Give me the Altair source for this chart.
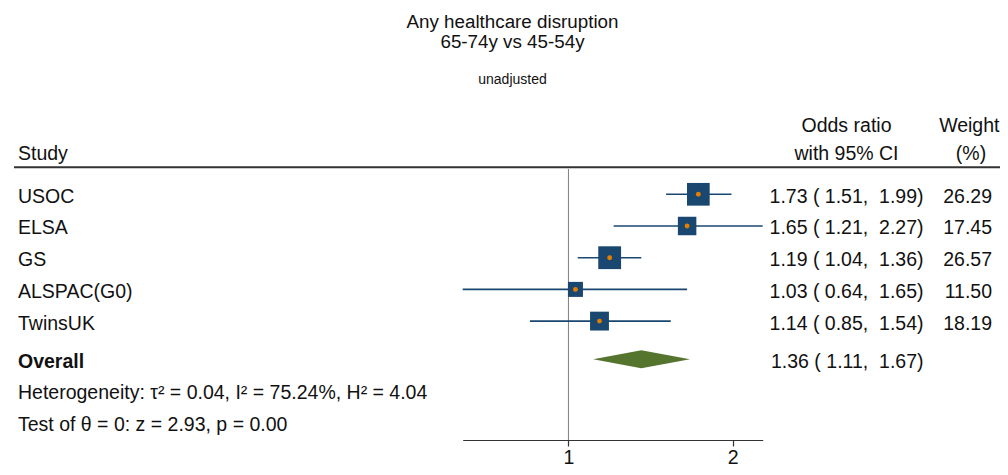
import altair as alt
import pandas as pd

# ---------------- data ----------------
studies = ["USOC", "ELSA", "GS", "ALSPAC(G0)", "TwinsUK"]
odds_ratio = [1.73, 1.65, 1.19, 1.03, 1.14]
ci_lower = [1.51, 1.21, 1.04, 0.64, 0.85]
ci_upper = [1.99, 2.27, 1.36, 1.65, 1.54]
weight_pct = [26.29, 17.45, 26.57, 11.50, 18.19]

overall_or = 1.36
overall_lower = 1.11
overall_upper = 1.67

tau2 = 0.04
i2 = 75.24
h2 = 4.04
z_stat = 2.93
p_value = 0.00

x_ticks = [1, 2]

title_lines = ["Any healthcare disruption", "65-74y vs 45-54y"]
subtitle = "unadjusted"

# ---------------- style / layout ----------------
W, H, PAD_B = 992, 432, 27
FONT = "Liberation Sans"
FS = 19.5
TEXT = "#111111"
NAVY = "#1a476f"
ORANGE = "#e37e00"
GREEN = "#55752f"
ROW0, STEP = 186.3, 31.7
DY = 8.4
DIAMOND_HALF = 9 / STEP


def nb(s):
    return s.replace(" ", "\u00a0")


def ci_text(e, lo, hi):
    return nb(f"{e:.2f} ({lo:5.2f}, {hi:5.2f})")


n = len(studies)
rows = list(range(1, n + 1))
overall_row = n + 1.2
het_row = overall_row + 1
test_row = overall_row + 2

df = pd.DataFrame({
    "study": studies, "row": rows, "or": odds_ratio, "lo": ci_lower,
    "hi": ci_upper, "w": weight_pct,
    "ci": [ci_text(e, l, h) for e, l, h in zip(odds_ratio, ci_lower, ci_upper)],
    "wt": [f"{w:.2f}" for w in weight_pct],
})

overall_label_df = pd.DataFrame({"label": ["Overall"], "row": [overall_row]})
stats_df = pd.DataFrame({
    "label": [
        f"Heterogeneity: \u03c4\u00b2 = {tau2:.2f}, I\u00b2 = {i2:.2f}%, H\u00b2 = {h2:.2f}",
        f"Test of \u03b8 = 0: z = {z_stat:.2f}, p = {p_value:.2f}",
    ],
    "row": [het_row, test_row],
})

diamond_df = pd.DataFrame({
    "x": [overall_lower, overall_or, overall_upper],
    "ytop": [overall_row, overall_row - DIAMOND_HALF, overall_row],
    "ybot": [overall_row, overall_row + DIAMOND_HALF, overall_row],
})

overall_text_df = pd.DataFrame({"row": [overall_row],
                                "ci": [ci_text(overall_or, overall_lower, overall_upper)]})

all_lo = min(ci_lower + [overall_lower])
all_hi = max(ci_upper + [overall_upper])
xscale = alt.Scale(type="log", domain=[all_lo, all_hi], range=[454.7, 754.7], nice=False)
xaxis = alt.Axis(values=x_ticks, format="~g", title=None, grid=False, tickSize=6,
                 tickColor="#333333", domainColor="#333333", domainWidth=1.2, tickWidth=1.2,
                 labelFont=FONT, labelFontSize=FS, labelColor=TEXT,
                 labelBaseline="alphabetic", labelPadding=17, labelFlush=False,
                 labelOverlap=False)
yscale = alt.Scale(domain=[1, n], range=[ROW0, ROW0 + (n - 1) * STEP], nice=False, zero=False)


def X(field):
    return alt.X(f"{field}:Q", scale=xscale, axis=xaxis)


def Y(field):
    return alt.Y(f"{field}:Q", scale=yscale, axis=None)


def fixed_text(txt, x, y, align="left", size=FS, weight="normal"):
    return alt.Chart(pd.DataFrame({"t": [txt]})).mark_text(
        align=align, baseline="alphabetic", font=FONT, fontSize=size,
        fontWeight=weight, color=TEXT
    ).encode(text="t:N", x=alt.value(x), y=alt.value(y))


def row_text(data, field, x, align="left", weight="normal"):
    return alt.Chart(data).mark_text(
        align=align, baseline="alphabetic", dy=DY, font=FONT, fontSize=FS,
        fontWeight=weight, color=TEXT
    ).encode(text=f"{field}:N", x=alt.value(x), y=Y("row"))


base = alt.Chart(df)

ref_line = alt.Chart(pd.DataFrame({"ref": [1]})).mark_rule(
    color="#7f7f7f", strokeWidth=1
).encode(x=X("ref"), y=alt.value(161), y2=alt.value(H))

header_rule = alt.Chart(pd.DataFrame({"a": [0]})).mark_rule(
    color="#333333", strokeWidth=2
).encode(x=alt.value(6), x2=alt.value(W), y=alt.value(159.3))

ci_rules = base.mark_rule(color=NAVY, strokeWidth=1.6).encode(
    x=X("lo"), x2="hi:Q", y=Y("row"))

squares = base.mark_square(color=NAVY, opacity=1).encode(
    x=X("or"), y=Y("row"),
    size=alt.Size("w:Q", scale=alt.Scale(domain=[0, 30], range=[0, 588]), legend=None))

dots = base.mark_circle(color=ORANGE, opacity=1, size=24).encode(x=X("or"), y=Y("row"))

diamond = alt.Chart(diamond_df).mark_area(color=GREEN, opacity=1).encode(
    x=X("x"), y=Y("ytop"), y2="ybot:Q")

names = row_text(df, "study", 10)
ci_col = row_text(df, "ci", 915.5, align="right")
wt_col = row_text(df, "wt", 984, align="right")
overall_label = row_text(overall_label_df, "label", 10, weight="bold")
stats_text = row_text(stats_df, "label", 10)
overall_ci = row_text(overall_text_df, "ci", 915.5, align="right")

headers = [
    fixed_text("Study", 10, 152),
    fixed_text("Odds ratio", 838.5, 123.7, align="center"),
    fixed_text("with 95% CI", 838.5, 152, align="center"),
    fixed_text("Weight", 961.3, 123.7, align="center"),
    fixed_text("(%)", 963, 152, align="center"),
    fixed_text(title_lines[0], 504.5, 19.8, align="center", size=18.8),
    fixed_text(title_lines[1], 504.5, 40, align="center", size=18.8),
    fixed_text(subtitle, 504.5, 76, align="center", size=14),
]

chart = alt.layer(
    ref_line, header_rule, ci_rules, squares, dots, diamond,
    names, ci_col, wt_col, overall_label, stats_text, overall_ci, *headers
).properties(
    width=W, height=H,
    padding={"left": 0, "top": 0, "right": 0, "bottom": PAD_B},
    autosize=alt.AutoSizeParams(type="none"),
    background="white",
).configure_view(stroke=None)

chart.save("out.html", embed_options={"renderer": "svg", "actions": False})
